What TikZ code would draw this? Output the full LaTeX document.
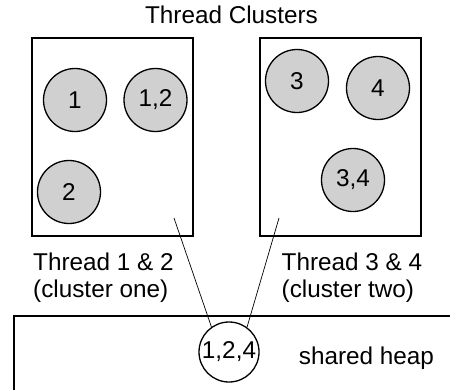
\documentclass[tikz,border=0pt]{standalone}
\usepackage{fontspec}
\setmainfont{Liberation Sans}
\usepackage{tikz}

\definecolor{objgray}{RGB}{208,208,208}

\tikzset{
    cluster/.style={draw, line width=1.5pt, inner sep=0pt},
    threadobj/.style={circle, draw, line width=1.3pt, fill=objgray, minimum size=63pt, inner sep=0pt},
    heapobj/.style={circle, draw, line width=1.3pt, fill=white, minimum size=60pt, inner sep=0pt},
    label text/.style={align=left, anchor=base west, inner sep=0pt}
}

\begin{document}
\begin{tikzpicture}[x=1pt, y=-1pt, font=\fontsize{24.3}{27}\selectfont]
        \useasboundingbox (0,0) rectangle (450,389);
        \clip (0,0) rectangle (450,389);
        \node[anchor=base, inner sep=0pt] (title) at (231.5,23) {Thread Clusters};
        % the two clusters
        \node[cluster, minimum width=161pt, minimum height=198pt] (leftbox) at (112.5,137) {};
        \node[cluster, minimum width=161pt, minimum height=198pt] (rightbox) at (340.5,137) {};
        \node[threadobj] (one) at (75,100) {1};
        \node[threadobj] (onetwo) at (155.5,100) {1,2};
        \node[threadobj] (two) at (69,192) {2};
        \node[threadobj] (three) at (297,81) {3};
        \node[threadobj] (four) at (378,88) {4};
        \node[threadobj] (threefour) at (353,180) {3,4};
        \node[label text] (leftlabel) at (33,297) {Thread 1 \& 2\\(cluster one)};
        \node[label text] (rightlabel) at (281.5,297) {Thread 3 \& 4\\(cluster two)};
        % shared heap
        \node[draw, line width=1.5pt, minimum width=460pt, minimum height=90pt, anchor=north west] (heap) at (13,315) {};
        \coordinate (leftend) at (174,218);
        \coordinate (rightend) at (279,218);
        \node[heapobj] (shared) at (229,352) {1,2,4};
        \draw[line width=0.7pt] (leftend) -- (shared.125);
        \draw[line width=0.7pt] (rightend) -- (shared.54);
        \node[anchor=base, inner sep=0pt] (heaplabel) at (366.5,364) {shared heap};
    \end{tikzpicture}
\end{document}
